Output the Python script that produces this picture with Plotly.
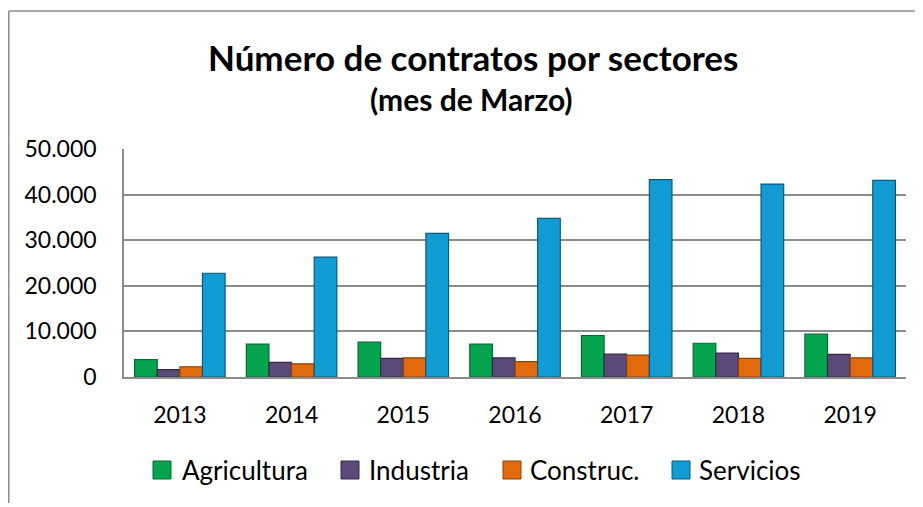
import plotly.graph_objects as go

# Datos del gráfico (mes de Marzo)
years = ["2013", "2014", "2015", "2016", "2017", "2018", "2019"]
agricultura = [3800, 7200, 7650, 7200, 9100, 7400, 9400]
industria = [1600, 3200, 4100, 4200, 5000, 5250, 4950]
construccion = [2250, 2900, 4200, 3350, 4800, 4100, 4200]
servicios = [22750, 26300, 31500, 34800, 43300, 42300, 43100]

series = [
    ("Agricultura", agricultura, "#07A450", "#046B35"),
    ("Industria", industria, "#5B4979", "#35294A"),
    ("Construc.", construccion, "#E06A0C", "#8E4306"),
    ("Servicios", servicios, "#129CD4", "#085A7E"),
]

FONT = "Lato"

# la página html añade 8px de margen al body
W, H = 923, 507
L, R, T, B = 116, 25, 141, 138
pw, ph = W - L - R, H - T - B

def px(x):
    return (x - L) / pw

def py(y):
    return (H - B - y) / ph

fig = go.Figure()
for name, vals, color, edge in series:
    fig.add_trace(go.Bar(
        x=years, y=vals, name=name, showlegend=False,
        marker=dict(color=color, line=dict(color=edge, width=1.2)),
    ))

# leyenda manual (cuadrado + texto) para reproducir el espaciado
legend_sq = [145, 333, 495, 664]
legend_tx = [172, 359, 520, 689]
for (name, _, color, edge), xs, xt in zip(series, legend_sq, legend_tx):
    fig.add_shape(type="rect", xref="paper", yref="paper",
                  x0=px(xs), x1=px(xs + 18), y0=py(453), y1=py(471),
                  fillcolor=color, line=dict(color=edge, width=1))
    fig.add_annotation(text=name, xref="paper", yref="paper",
                       x=px(xt), y=py(462), xanchor="left", yanchor="middle",
                       showarrow=False, font=dict(family=FONT, size=26, color="black"))

# marco exterior (solo bordes superior e izquierdo visibles)
fig.add_shape(type="line", xref="paper", yref="paper",
              x0=px(0.8), x1=px(923), y0=py(3), y1=py(3),
              line=dict(color="#8c8c8c", width=1.5))
fig.add_shape(type="line", xref="paper", yref="paper",
              x0=px(0.8), x1=px(0.8), y0=py(3), y1=py(495),
              line=dict(color="#8c8c8c", width=1.5))

fig.add_annotation(text="<b>Número de contratos por sectores</b>",
                   xref="paper", yref="paper", x=px(465), y=py(49),
                   xanchor="center", yanchor="middle",
                   showarrow=False, font=dict(family=FONT, size=35, color="black"))
fig.add_annotation(text="<b>(mes de Marzo)</b>",
                   xref="paper", yref="paper", x=px(463), y=py(91),
                   xanchor="center", yanchor="middle",
                   showarrow=False, font=dict(family=FONT, size=30, color="black"))

fig.update_layout(
    width=W, height=H,
    margin=dict(l=L, r=R, t=T, b=B),
    paper_bgcolor="white", plot_bgcolor="white",
    barmode="group", bargap=0.19, bargroupgap=0,
    font=dict(family=FONT, size=20, color="black"),
    showlegend=False,
)
fig.update_yaxes(range=[0, 50000], tickvals=[0, 10000, 20000, 30000, 40000, 50000],
                 ticktext=["0", "10.000", "20.000", "30.000", "40.000", "50.000"],
                 showgrid=True, gridcolor="#8c8c8c", gridwidth=1.5,
                 showline=True, linecolor="#8c8c8c", linewidth=1.5,
                 zeroline=False, ticks="", ticklabelstandoff=21,
                 tickfont=dict(family=FONT, size=23))
fig.update_xaxes(showline=True, linecolor="#8c8c8c", linewidth=1.5,
                 ticks="", ticklabelstandoff=17,
                 tickfont=dict(family=FONT, size=23))

fig.write_html("out.html")
